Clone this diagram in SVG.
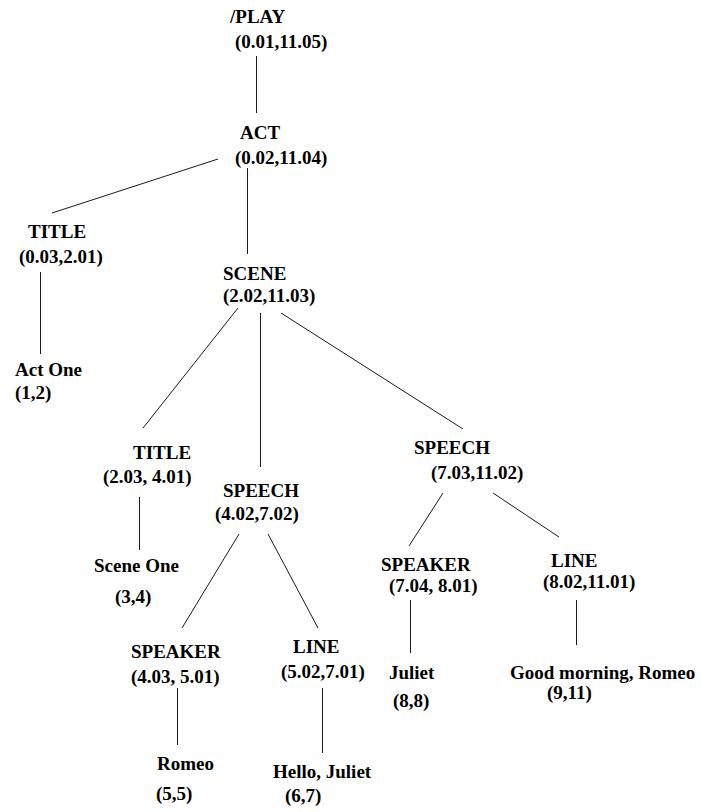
<svg xmlns="http://www.w3.org/2000/svg" width="701" height="812" viewBox="0 0 701 812">
  <style>
    .lbl { font-family: "Liberation Serif", "Times New Roman", serif; font-weight: bold; font-size: 19px; fill: #000; }
    .edge { stroke: #1a1a1a; stroke-width: 1; fill: none; }
  </style>
  <rect width="701" height="812" fill="#fff"/>

  <g id="edges">
    <line class="edge" x1="256.5" y1="56" x2="256.5" y2="113"/>
    <line class="edge" x1="218" y1="159" x2="52" y2="213"/>
    <line class="edge" x1="247.5" y1="168" x2="247.5" y2="254"/>
    <line class="edge" x1="40.5" y1="272" x2="40.5" y2="354"/>
    <line class="edge" x1="238" y1="308" x2="143" y2="428"/>
    <line class="edge" x1="260.5" y1="313" x2="260.5" y2="467"/>
    <line class="edge" x1="281" y1="313" x2="463" y2="429"/>
    <line class="edge" x1="139.5" y1="497" x2="139.5" y2="550"/>
    <line class="edge" x1="239" y1="534" x2="182" y2="628"/>
    <line class="edge" x1="268" y1="534" x2="318" y2="628"/>
    <line class="edge" x1="177.5" y1="688" x2="177.5" y2="745"/>
    <line class="edge" x1="322.5" y1="688" x2="322.5" y2="753"/>
    <line class="edge" x1="443" y1="493" x2="409" y2="546"/>
    <line class="edge" x1="493" y1="493" x2="559" y2="537"/>
    <line class="edge" x1="410.5" y1="600" x2="410.5" y2="653"/>
    <line class="edge" x1="576.5" y1="600" x2="576.5" y2="645"/>
  </g>

  <g id="play">
    <text class="lbl" x="230" y="23">/PLAY</text>
    <text class="lbl" x="235" y="48">(0.01,11.05)</text>
  </g>
  <g id="act">
    <text class="lbl" x="240" y="139">ACT</text>
    <text class="lbl" x="235" y="164">(0.02,11.04)</text>
  </g>
  <g id="title-act">
    <text class="lbl" x="28" y="238">TITLE</text>
    <text class="lbl" x="19" y="263">(0.03,2.01)</text>
  </g>
  <g id="text-act-one">
    <text class="lbl" x="15" y="376">Act One</text>
    <text class="lbl" x="15" y="399">(1,2)</text>
  </g>
  <g id="scene">
    <text class="lbl" x="223" y="280">SCENE</text>
    <text class="lbl" x="223" y="302">(2.02,11.03)</text>
  </g>
  <g id="title-scene">
    <text class="lbl" x="133" y="459">TITLE</text>
    <text class="lbl" x="103" y="483">(2.03, 4.01)</text>
  </g>
  <g id="text-scene-one">
    <text class="lbl" x="94" y="572">Scene One</text>
    <text class="lbl" x="115" y="603">(3,4)</text>
  </g>
  <g id="speech-1">
    <text class="lbl" x="223" y="497">SPEECH</text>
    <text class="lbl" x="215" y="520">(4.02,7.02)</text>
  </g>
  <g id="speaker-1">
    <text class="lbl" x="131" y="658">SPEAKER</text>
    <text class="lbl" x="131" y="683">(4.03, 5.01)</text>
  </g>
  <g id="text-romeo">
    <text class="lbl" x="157" y="770">Romeo</text>
    <text class="lbl" x="156" y="800">(5,5)</text>
  </g>
  <g id="line-1">
    <text class="lbl" x="293" y="653">LINE</text>
    <text class="lbl" x="281" y="678">(5.02,7.01)</text>
  </g>
  <g id="text-hello">
    <text class="lbl" x="273" y="778">Hello, Juliet</text>
    <text class="lbl" x="285" y="802">(6,7)</text>
  </g>
  <g id="speech-2">
    <text class="lbl" x="414" y="454">SPEECH</text>
    <text class="lbl" x="431" y="479">(7.03,11.02)</text>
  </g>
  <g id="speaker-2">
    <text class="lbl" x="381" y="571">SPEAKER</text>
    <text class="lbl" x="389" y="592">(7.04, 8.01)</text>
  </g>
  <g id="text-juliet">
    <text class="lbl" x="389" y="679">Juliet</text>
    <text class="lbl" x="393" y="707">(8,8)</text>
  </g>
  <g id="line-2">
    <text class="lbl" x="551" y="567">LINE</text>
    <text class="lbl" x="543" y="588">(8.02,11.01)</text>
  </g>
  <g id="text-good-morning">
    <text class="lbl" x="510" y="679">Good morning, Romeo</text>
    <text class="lbl" x="547" y="699">(9,11)</text>
  </g>
</svg>
